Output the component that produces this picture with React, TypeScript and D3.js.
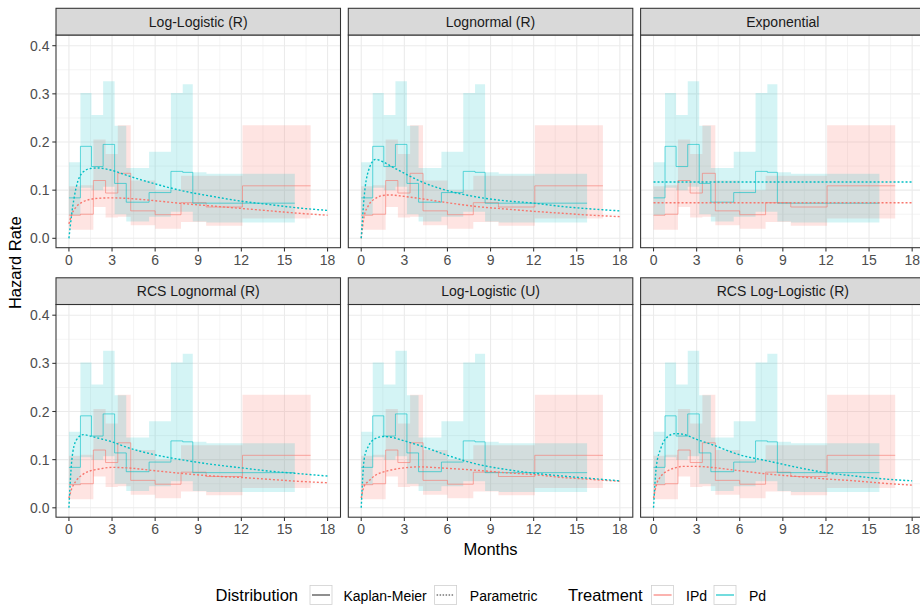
import React, { useEffect, useRef } from "react";
import * as d3 from "d3";

// time grid (months) used for the parametric hazard curves
const months = [0, 0.2, 0.5, 1, 1.5, 2, 3, 4, 6, 8, 10, 12, 14, 16, 18];

// parametric hazards
const llrPd = [0, 0.052, 0.105, 0.138, 0.145, 0.146, 0.141, 0.131, 0.113, 0.098, 0.087, 0.077, 0.07, 0.063, 0.058];
const llrIpd = [0.03, 0.05, 0.065, 0.076, 0.081, 0.083, 0.084, 0.083, 0.078, 0.072, 0.067, 0.062, 0.057, 0.052, 0.048];
const lnrPd = [0, 0.085, 0.14, 0.164, 0.159, 0.151, 0.135, 0.12, 0.099, 0.086, 0.078, 0.073, 0.066, 0.061, 0.057];
const lnrIpd = [0, 0.045, 0.068, 0.083, 0.089, 0.09, 0.087, 0.083, 0.074, 0.066, 0.061, 0.056, 0.052, 0.048, 0.045];
const expPd = [0.117, 0.117, 0.117, 0.117, 0.117, 0.117, 0.117, 0.117, 0.117, 0.117, 0.117, 0.117, 0.117, 0.117, 0.117];
const expIpd = [0.074, 0.074, 0.074, 0.074, 0.074, 0.074, 0.074, 0.074, 0.074, 0.074, 0.074, 0.074, 0.074, 0.074, 0.074];
const rcsLnPd = [0, 0.099, 0.14, 0.152, 0.149, 0.145, 0.137, 0.126, 0.11, 0.099, 0.09, 0.083, 0.076, 0.071, 0.066];
const rcsLnIpd = [0.02, 0.04, 0.056, 0.07, 0.077, 0.08, 0.084, 0.083, 0.077, 0.071, 0.066, 0.063, 0.059, 0.055, 0.052];
const lluPd = [0, 0.1, 0.128, 0.144, 0.148, 0.147, 0.139, 0.13, 0.109, 0.091, 0.08, 0.072, 0.066, 0.061, 0.056];
const lluIpd = [0.02, 0.045, 0.055, 0.068, 0.074, 0.078, 0.083, 0.085, 0.082, 0.078, 0.073, 0.069, 0.063, 0.059, 0.055];
const rcsLlPd = [0, 0.087, 0.123, 0.148, 0.154, 0.153, 0.142, 0.132, 0.11, 0.097, 0.084, 0.073, 0.066, 0.06, 0.056];
const rcsLlIpd = [0.02, 0.048, 0.065, 0.077, 0.083, 0.086, 0.086, 0.084, 0.077, 0.07, 0.065, 0.06, 0.056, 0.051, 0.047];

// Kaplan-Meier piecewise hazard, Pd
const pdStart = [0, 0.8, 1.57, 2.38, 3.18, 3.99, 5.58, 7.1, 7.92, 8.62, 9.57];
const pdEnd = 15.72;
const pdHaz = [0.084, 0.191, 0.149, 0.195, 0.114, 0.075, 0.095, 0.139, 0.137, 0.073, 0.073];
const pdLo = [0.048, 0.105, 0.1, 0.107, 0.05, 0.035, 0.045, 0.055, 0.055, 0.035, 0.033];
const pdHi = [0.158, 0.302, 0.256, 0.326, 0.234, 0.146, 0.18, 0.302, 0.32, 0.137, 0.134];

// Kaplan-Meier piecewise hazard, IPd
const ipdStart = [0, 0.8, 1.7, 2.55, 3.4, 4.3, 6.0, 7.8, 9.55, 12.08];
const ipdEnd = 16.82;
const ipdHaz = [0.048, 0.05, 0.12, 0.094, 0.135, 0.057, 0.049, 0.074, 0.065, 0.109];
const ipdLo = [0.018, 0.018, 0.065, 0.043, 0.045, 0.027, 0.02, 0.034, 0.026, 0.041];
const ipdHi = [0.108, 0.11, 0.205, 0.175, 0.235, 0.12, 0.1, 0.13, 0.13, 0.235];

const panelTitles = ["Log-Logistic (R)", "Lognormal (R)", "Exponential", "RCS Lognormal (R)", "Log-Logistic (U)", "RCS Log-Logistic (R)"];
const pdCurves = [llrPd, lnrPd, expPd, rcsLnPd, lluPd, rcsLlPd];
const ipdCurves = [llrIpd, lnrIpd, expIpd, rcsLnIpd, lluIpd, rcsLlIpd];

const xTicks = [0, 3, 6, 9, 12, 15, 18];
const xMinor = [1.5, 4.5, 7.5, 10.5, 13.5, 16.5];
const yTicks = [0, 0.1, 0.2, 0.3, 0.4];
const yMinor = [0.05, 0.15, 0.25, 0.35];

const PINK = "#F8766D";
const TEAL = "#00BFC4";
const FONT = "'Liberation Sans', Arial, sans-serif";

const App = () => {
  const chartRef = useRef(null);

  useEffect(() => {
    const width = 920;
    const height = 607;
    const panelW = 284.5;
    const panelH = 212.7;
    const stripH = 26.7;
    const colX = (c) => 56 + c * 292.3;
    const rowY = (r) => 8.3 + r * 269.5;

    d3.select(chartRef.current).selectAll("*").remove();

    const svg = d3
      .select(chartRef.current)
      .append("svg")
      .attr("width", width)
      .attr("height", height)
      .style("position", "absolute")
      .style("left", 0)
      .style("top", 0)
      .style("background", "white")
      .style("font-family", FONT);

    const kmPoints = (starts, end, haz, lo, hi) => {
      const pts = starts.map((s, i) => ({ t: s, h: haz[i], lo: lo[i], hi: hi[i] }));
      const n = starts.length - 1;
      pts.push({ t: end, h: haz[n], lo: lo[n], hi: hi[n] });
      return pts;
    };
    const pdKm = kmPoints(pdStart, pdEnd, pdHaz, pdLo, pdHi);
    const ipdKm = kmPoints(ipdStart, ipdEnd, ipdHaz, ipdLo, ipdHi);

    panelTitles.forEach((title, p) => {
      const col = p % 3;
      const row = Math.floor(p / 3);
      const left = colX(col);
      const stripTop = rowY(row);
      const top = stripTop + stripH;

      const x = d3.scaleLinear().domain([-0.9, 18.9]).range([left, left + panelW]);
      const y = d3.scaleLinear().domain([-0.0195, 0.4222]).range([top + panelH, top]);

      const g = svg.append("g");
      const clipId = `clip-${p}`;
      g.append("clipPath")
        .attr("id", clipId)
        .append("rect")
        .attr("x", left)
        .attr("y", top)
        .attr("width", panelW)
        .attr("height", panelH);

      g.append("rect")
        .attr("x", left)
        .attr("y", top)
        .attr("width", panelW)
        .attr("height", panelH)
        .attr("fill", "white");

      // grid
      const grid = g.append("g").attr("clip-path", `url(#${clipId})`);
      xMinor.forEach((t) =>
        grid.append("line").attr("x1", x(t)).attr("x2", x(t)).attr("y1", top).attr("y2", top + panelH)
          .attr("stroke", "#ebebeb").attr("stroke-width", 0.55)
      );
      yMinor.forEach((v) =>
        grid.append("line").attr("x1", left).attr("x2", left + panelW).attr("y1", y(v)).attr("y2", y(v))
          .attr("stroke", "#ebebeb").attr("stroke-width", 0.55)
      );
      xTicks.forEach((t) =>
        grid.append("line").attr("x1", x(t)).attr("x2", x(t)).attr("y1", top).attr("y2", top + panelH)
          .attr("stroke", "#ebebeb").attr("stroke-width", 1.1)
      );
      yTicks.forEach((v) =>
        grid.append("line").attr("x1", left).attr("x2", left + panelW).attr("y1", y(v)).attr("y2", y(v))
          .attr("stroke", "#ebebeb").attr("stroke-width", 1.1)
      );

      const data = g.append("g").attr("clip-path", `url(#${clipId})`);

      // confidence ribbons
      const ribbon = d3
        .area()
        .curve(d3.curveStepAfter)
        .x((d) => x(d.t))
        .y0((d) => y(d.lo))
        .y1((d) => y(d.hi));
      data.append("path").attr("d", ribbon(ipdKm)).attr("fill", PINK).attr("fill-opacity", 0.2);
      data.append("path").attr("d", ribbon(pdKm)).attr("fill", TEAL).attr("fill-opacity", 0.17);

      // Kaplan-Meier steps
      const step = d3
        .line()
        .curve(d3.curveStepAfter)
        .x((d) => x(d.t))
        .y((d) => y(d.h));
      data.append("path").attr("d", step(ipdKm)).attr("fill", "none")
        .attr("stroke", PINK).attr("stroke-opacity", 0.6).attr("stroke-width", 1);
      data.append("path").attr("d", step(pdKm)).attr("fill", "none")
        .attr("stroke", TEAL).attr("stroke-opacity", 0.6).attr("stroke-width", 1);

      // parametric curves
      const curve = d3
        .line()
        .curve(d3.curveMonotoneX)
        .x((d, i) => x(months[i]))
        .y((d) => y(d));
      data.append("path").attr("d", curve(ipdCurves[p])).attr("fill", "none")
        .attr("stroke", PINK).attr("stroke-width", 1.4).attr("stroke-dasharray", "2 2");
      data.append("path").attr("d", curve(pdCurves[p])).attr("fill", "none")
        .attr("stroke", TEAL).attr("stroke-width", 1.4).attr("stroke-dasharray", "2 2");

      // border
      g.append("rect")
        .attr("x", left)
        .attr("y", top)
        .attr("width", panelW)
        .attr("height", panelH)
        .attr("fill", "none")
        .attr("stroke", "#333333")
        .attr("stroke-width", 1.07);

      // strip
      g.append("rect")
        .attr("x", left)
        .attr("y", stripTop)
        .attr("width", panelW)
        .attr("height", stripH)
        .attr("fill", "#d9d9d9")
        .attr("stroke", "#333333")
        .attr("stroke-width", 1.07);
      g.append("text")
        .attr("x", left + panelW / 2)
        .attr("y", stripTop + stripH / 2 + 5)
        .attr("text-anchor", "middle")
        .attr("fill", "#1a1a1a")
        .style("font-size", "14px")
        .text(title);

      // x axis
      const bottom = top + panelH;
      xTicks.forEach((t) => {
        g.append("line").attr("x1", x(t)).attr("x2", x(t)).attr("y1", bottom).attr("y2", bottom + 3.7)
          .attr("stroke", "#333333").attr("stroke-width", 1.07);
        g.append("text")
          .attr("x", x(t))
          .attr("y", bottom + 17)
          .attr("text-anchor", "middle")
          .attr("fill", "#4d4d4d")
          .style("font-size", "14px")
          .text(t);
      });

      // y axis on the left column
      if (col === 0) {
        yTicks.forEach((v) => {
          g.append("line").attr("x1", left - 3.7).attr("x2", left).attr("y1", y(v)).attr("y2", y(v))
            .attr("stroke", "#333333").attr("stroke-width", 1.07);
          g.append("text")
            .attr("x", left - 6.5)
            .attr("y", y(v) + 5)
            .attr("text-anchor", "end")
            .attr("fill", "#4d4d4d")
            .style("font-size", "14px")
            .text(d3.format(".1f")(v));
        });
      }
    });

    // axis titles
    svg.append("text")
      .attr("x", (colX(0) + colX(2) + panelW) / 2)
      .attr("y", 555)
      .attr("text-anchor", "middle")
      .attr("fill", "black")
      .style("font-size", "16.5px")
      .text("Months");

    svg.append("text")
      .attr("transform", `translate(21,${rowY(0) + (rowY(1) + stripH + panelH - rowY(0)) / 2}) rotate(-90)`)
      .attr("text-anchor", "middle")
      .attr("fill", "black")
      .style("font-size", "16.5px")
      .text("Hazard Rate");

    // legend
    const legY = 595;
    const key = (kx, color, dash) => {
      svg.append("rect").attr("x", kx).attr("y", legY - 9.5).attr("width", 22).attr("height", 19)
        .attr("fill", "white").attr("stroke", "#d0d0d0").attr("stroke-width", 0.8);
      svg.append("line").attr("x1", kx + 2).attr("x2", kx + 20).attr("y1", legY).attr("y2", legY)
        .attr("stroke", color).attr("stroke-width", 1.1).attr("stroke-dasharray", dash);
    };
    const label = (lx, txt, size) =>
      svg.append("text").attr("x", lx).attr("y", legY + 5.5).attr("fill", "black")
        .style("font-size", `${size}px`).text(txt);

    label(215.5, "Distribution", 16.5);
    key(310, "#333333", null);
    label(343.5, "Kaplan-Meier", 14);
    key(434.6, "#333333", "1.5 1.5");
    label(469.8, "Parametric", 14);
    label(568, "Treatment", 16.5);
    key(651.6, PINK, null);
    label(686, "IPd", 14);
    key(714, TEAL, null);
    label(749, "Pd", 14);
  }, []);

  return <div ref={chartRef}></div>;
};

export default App;
